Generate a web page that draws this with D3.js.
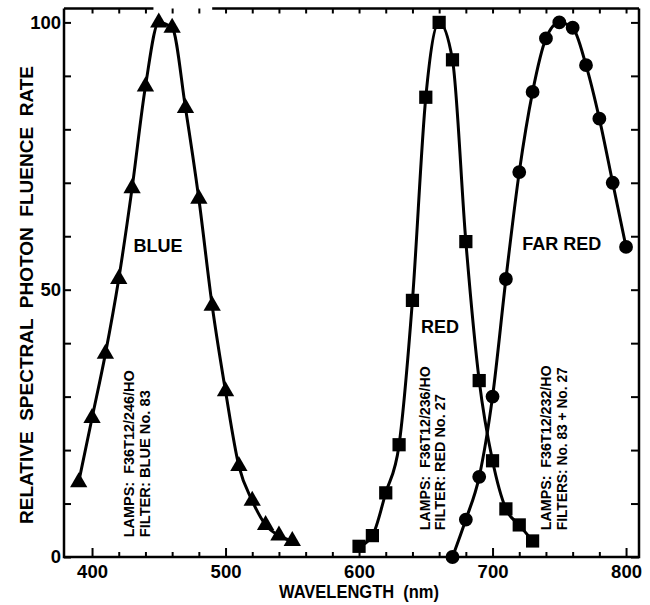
<!DOCTYPE html>
<html>
<head>
<meta charset="utf-8">
<script src="https://cdn.jsdelivr.net/npm/d3@7"></script>
<style>
  body { margin: 0; background: #fff; }
  text { font-family: "Liberation Sans", Arial, sans-serif; font-weight: bold; fill: #000; }
</style>
</head>
<body>
<div id="chart"></div>
<script>
// data
var blueNm = [390,400,410,420,430,440,450,460,470,480,490,500,510,520,530,540,550];
var blueVal = [14,26,38,52,69,88,100,99,84,67,47,31,17,10.5,6,4,3];
var redNm = [600,610,620,630,640,650,660,670,680,690,700,710,720,730];
var redVal = [2,4,12,21,48,86,100,93,59,33,18,9,6,3];
var farRedNm = [670,680,690,700,710,720,730,740,750,760,770,780,790,800];
var farRedVal = [0,7,15,30,52,72,87,97,100,99,92,82,70,58];

var xTicks = d3.range(400, 801, 20);
var xLabels = [400, 500, 600, 700, 800];
var yTicks = d3.range(0, 101, 10);
var yLabels = [0, 50, 100];

var width = 650, height = 605;
var plotL = 64, plotR = 639, plotT = 8.5, plotB = 557;

var svg = d3.select("#chart").append("svg")
    .attr("width", width)
    .attr("height", height);

svg.append("rect").attr("width", width).attr("height", height).attr("fill", "#fff");

var x = d3.scaleLinear().domain([379, 809.7]).range([plotL, plotR]);
var y = d3.scaleLinear().domain([0, 102.6]).range([plotB, plotT]);

// axes (ticks point inward)
var gx = svg.append("g")
    .attr("transform", "translate(0," + plotB + ")")
    .call(d3.axisBottom(x).tickValues(xTicks).tickSizeInner(-5).tickSizeOuter(0).tickPadding(8)
      .tickFormat(d => xLabels.includes(d) ? d : ""));
gx.selectAll(".tick line").filter(d => d % 100 == 0).attr("y2", -9);

var gxTop = svg.append("g")
    .attr("transform", "translate(0," + plotT + ")")
    .call(d3.axisTop(x).tickValues(xTicks).tickSizeInner(-5).tickSizeOuter(0).tickFormat(""));

var gy = svg.append("g")
    .attr("transform", "translate(" + plotL + ",0)")
    .call(d3.axisLeft(y).tickValues(yTicks).tickSizeInner(-7).tickSizeOuter(0).tickPadding(3)
      .tickFormat(d => yLabels.includes(d) ? d : ""));

var gyRight = svg.append("g")
    .attr("transform", "translate(" + plotR + ",0)")
    .call(d3.axisRight(y).tickValues(yTicks).tickSizeInner(-8).tickSizeOuter(0).tickFormat(""));

svg.selectAll(".domain").remove();
svg.selectAll(".tick line").attr("stroke", "#000").attr("stroke-width", 2);
svg.selectAll(".tick text")
    .attr("font-size", 18.5)
    .attr("font-family", "Liberation Sans, Arial, sans-serif")
    .attr("font-weight", "bold");

// frame
var frame = svg.append("g").attr("stroke", "#000").attr("stroke-width", 2.5).attr("fill", "none");
frame.append("path").attr("d", d3.line()([[plotL, plotT], [plotL, plotB], [plotR, plotB], [plotR, plotT]]));
frame.append("line").attr("x1", plotL).attr("x2", x(446)).attr("y1", plotT).attr("y2", plotT);
frame.append("line").attr("x1", x(490)).attr("x2", plotR).attr("y1", plotT).attr("y2", plotT);

// curves
var line = d3.line()
    .x(d => x(d[0]))
    .y(d => y(d[1]))
    .curve(d3.curveMonotoneX);

function drawSeries(nm, val, symbol, size) {
  var pts = d3.zip(nm, val);
  svg.append("path")
      .datum(pts)
      .attr("d", line)
      .attr("fill", "none")
      .attr("stroke", "#000")
      .attr("stroke-width", 3);
  svg.append("g")
    .selectAll("path")
    .data(pts)
    .join("path")
      .attr("transform", d => "translate(" + x(d[0]) + "," + y(d[1]) + ")")
      .attr("d", d3.symbol(symbol).size(size))
      .attr("fill", "#000");
}

drawSeries(blueNm, blueVal, d3.symbolTriangle, 130);
drawSeries(redNm, redVal, d3.symbolSquare, 175);
drawSeries(farRedNm, farRedVal, d3.symbolCircle, 150);

// curve names
var names = [
  {t: "BLUE", nm: 449.4, v: 57.1},
  {t: "RED", nm: 660.6, v: 41.9},
  {t: "FAR RED", nm: 751.8, v: 57.5}
];
svg.append("g").selectAll("text")
  .data(names)
  .join("text")
    .attr("x", d => x(d.nm))
    .attr("y", d => y(d.v))
    .attr("text-anchor", "middle")
    .attr("font-size", 18)
    .text(d => d.t);

// lamp / filter notes (rotated)
var notes = [
  {t: "LAMPS:  F36T12/246/HO", nm: 431.1, v: 3.7, len: 167},
  {t: "FILTER: BLUE No. 83", nm: 443.4, v: 3.7, len: 147},
  {t: "LAMPS:  F36T12/236/HO", nm: 653.2, v: 5.0, len: 164},
  {t: "FILTER: RED No. 27", nm: 664.4, v: 5.0, len: 136},
  {t: "LAMPS:  F36T12/232/HO", nm: 743.5, v: 5.0, len: 165},
  {t: "FILTERS: No. 83 + No. 27", nm: 755.5, v: 5.0, len: 163}
];
svg.append("g").selectAll("text")
  .data(notes)
  .join("text")
    .attr("transform", d => "translate(" + x(d.nm) + "," + y(d.v) + ") rotate(-90)")
    .attr("font-size", 15.5)
    .attr("textLength", d => d.len)
    .attr("lengthAdjust", "spacingAndGlyphs")
    .style("white-space", "pre")
    .text(d => d.t);

// axis titles
svg.append("text")
    .attr("transform", "translate(33,295) rotate(-90)")
    .attr("text-anchor", "middle")
    .attr("font-size", 19)
    .attr("textLength", 458)
    .attr("lengthAdjust", "spacingAndGlyphs")
    .style("white-space", "pre")
    .text("RELATIVE  SPECTRAL  PHOTON  FLUENCE  RATE");

svg.append("text")
    .attr("x", x(600))
    .attr("y", 598)
    .attr("text-anchor", "middle")
    .attr("font-size", 17.5)
    .attr("textLength", 160)
    .attr("lengthAdjust", "spacingAndGlyphs")
    .style("white-space", "pre")
    .text("WAVELENGTH  (nm)");
</script>
</body>
</html>
